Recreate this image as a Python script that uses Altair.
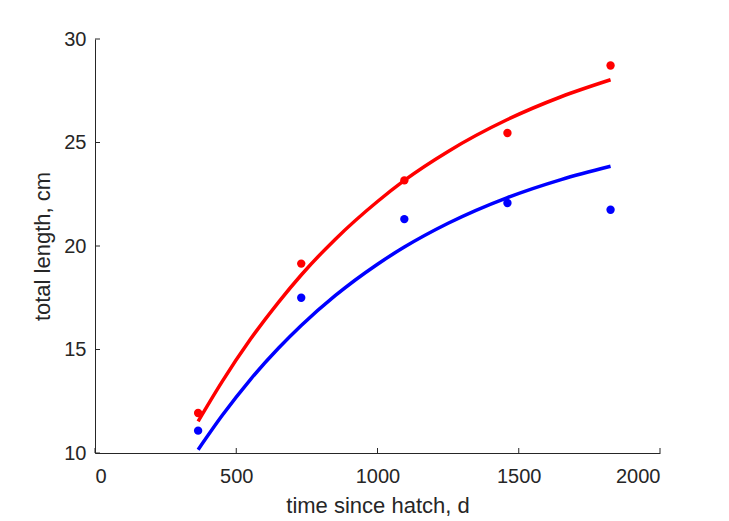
import altair as alt
import pandas as pd

# observed mean lengths (points)
days = [365, 730, 1095, 1460, 1825]
red_obs = [11.93, 19.15, 23.17, 25.46, 28.72]
blue_obs = [11.08, 17.50, 21.30, 22.08, 21.75]

# fitted growth curves
fit_days = [365, 450, 550, 650, 730, 850, 1000, 1095, 1250, 1460, 1650, 1825]
red_fit = [11.53, 13.45, 15.49, 17.29, 18.60, 20.32, 22.15, 23.17, 24.57, 26.11, 27.21, 28.03]
blue_fit = [10.16, 11.81, 13.55, 15.07, 16.16, 17.60, 19.12, 19.95, 21.10, 22.34, 23.21, 23.85]

x_ticks = [0, 500, 1000, 1500, 2000]
y_ticks = [10, 15, 20, 25, 30]

series_names = ["red", "blue"]
series_colors = ["#FF0000", "#0000FF"]

obs = pd.DataFrame(
    [{"t": d, "L": v, "s": "red"} for d, v in zip(days, red_obs)]
    + [{"t": d, "L": v, "s": "blue"} for d, v in zip(days, blue_obs)]
)
fit = pd.DataFrame(
    [{"t": d, "L": v, "s": "red"} for d, v in zip(fit_days, red_fit)]
    + [{"t": d, "L": v, "s": "blue"} for d, v in zip(fit_days, blue_fit)]
)

W, H = 565, 414
AX = "#262626"
FONT = "Liberation Sans"

xs = alt.Scale(domain=[0, 2000], nice=False, zero=False)
ys = alt.Scale(domain=[10, 30], nice=False, zero=False)
col = alt.Color("s:N", scale=alt.Scale(domain=series_names, range=series_colors), legend=None)

x_enc = alt.X(
    "t:Q", scale=xs,
    axis=alt.Axis(values=x_ticks, title="time since hatch, d", tickSize=0, grid=False,
                  labelPadding=13, titlePadding=9, labelFontSize=20, titleFontSize=22,
                  labelColor=AX, titleColor=AX, domainColor=AX, domainWidth=1,
                  titleFontWeight="normal", labelFont=FONT, titleFont=FONT, format="d"),
)
y_enc = alt.Y(
    "L:Q", scale=ys,
    axis=alt.Axis(values=y_ticks, title="total length, cm", tickSize=0, grid=False,
                  labelPadding=9, titlePadding=9, labelFontSize=20, titleFontSize=22,
                  labelColor=AX, titleColor=AX, domainColor=AX, domainWidth=1,
                  titleFontWeight="normal", labelFont=FONT, titleFont=FONT, format="d"),
)

lines = alt.Chart(fit).mark_line(strokeWidth=3.5, interpolate="monotone").encode(
    x=x_enc, y=y_enc, color=col, detail="s:N"
)
points = alt.Chart(obs).mark_circle(size=70, opacity=1).encode(
    x=alt.X("t:Q", scale=xs), y=alt.Y("L:Q", scale=ys), color=col
)

xt = pd.DataFrame({"t": x_ticks})
yt = pd.DataFrame({"L": y_ticks})
xtick_marks = alt.Chart(xt).mark_rule(color=AX, strokeWidth=1).encode(
    x=alt.X("t:Q", scale=xs), y=alt.value(H), y2=alt.value(H - 5)
)
ytick_marks = alt.Chart(yt).mark_rule(color=AX, strokeWidth=1).encode(
    y=alt.Y("L:Q", scale=ys), x=alt.value(0), x2=alt.value(5)
)

chart = (
    alt.layer(lines, points, xtick_marks, ytick_marks)
    .properties(
        width=W, height=H,
        autosize=alt.AutoSizeParams(type="none"),
        padding={"left": 95, "top": 39, "right": 69, "bottom": 68},
        background="white",
    )
    .configure_view(stroke=None)
)

chart.save("out.html", embed_options={"renderer": "svg", "actions": False})
